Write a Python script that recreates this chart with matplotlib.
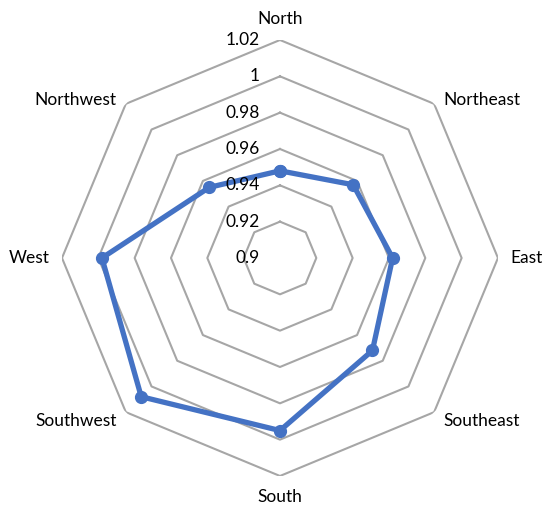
import numpy as np
import matplotlib.pyplot as plt
import matplotlib.transforms as mtransforms

plt.rcParams['font.family'] = ['Lato', 'DejaVu Sans']

directions = ['North', 'Northeast', 'East', 'Southeast',
              'South', 'Southwest', 'West', 'Northwest']
values = [0.948, 0.957, 0.962, 0.972, 0.995, 1.008, 0.998, 0.955]
rings = [0.92, 0.94, 0.96, 0.98, 1.00, 1.02]
ring_labels = ['0.9', '0.92', '0.94', '0.96', '0.98', '1', '1.02']
ring_ticks = [0.90] + rings

n = len(directions)
theta = np.arange(n) * 2 * np.pi / n
theta_closed = np.append(theta, theta[0])

fig = plt.figure(figsize=(5.5, 5.18), dpi=100)
ax = fig.add_axes([0.1127, 0.0811, 0.7927, 0.8417], projection='polar')
ax.set_theta_zero_location('N')
ax.set_theta_direction(-1)
ax.set_rlim(0.9, 1.02)
ax.grid(False)
ax.spines['polar'].set_visible(False)
ax.set_xticks([])
ax.set_yticks([])

# octagon grid
for r in rings:
    ax.plot(theta_closed, [r] * (n + 1), color='#a6a6a6', lw=1.5, zorder=1)

# series
v = np.append(values, values[0])
ax.plot(theta_closed, v, color='#4472c4', lw=3.8, marker='o', ms=8.5, zorder=3)

# radial labels along the north axis
off = mtransforms.offset_copy(ax.transData, fig=fig, x=-20, y=0, units='dots')
for r, lab in zip(ring_ticks, ring_labels):
    ax.text(0, r, lab, transform=off, ha='right', va='center',
            fontsize=12.5, color='#000000', zorder=4)

# category labels
align = {
    'North': ('center', 'bottom', 0), 'Northeast': ('left', 'center', -5),
    'East': ('left', 'center', 0), 'Southeast': ('left', 'center', 0),
    'South': ('center', 'top', 0), 'Southwest': ('right', 'center', 0),
    'West': ('right', 'center', 0), 'Northwest': ('right', 'center', -5),
}
for t, name in zip(theta, directions):
    ha, va, dy = align[name]
    tr = mtransforms.offset_copy(ax.transData, fig=fig, x=0, y=dy, units='dots')
    ax.text(t, 1.027, name, ha=ha, va=va, fontsize=12.5, clip_on=False,
            transform=tr)

fig.savefig('out.png', dpi=100)
